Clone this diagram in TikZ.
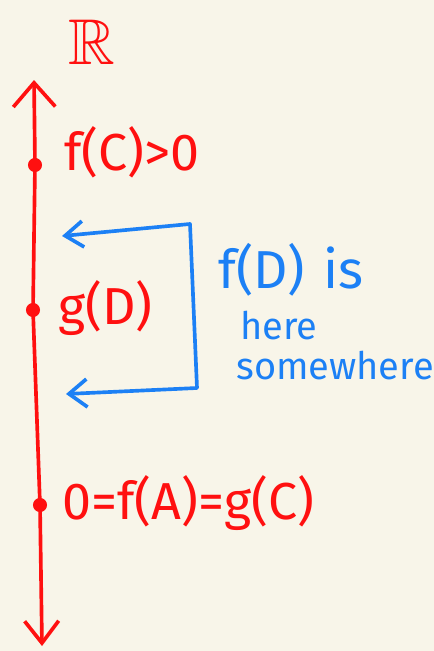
\documentclass[tikz,border=0pt]{standalone}
\usepackage{fontspec}
\usepackage{amssymb}
\setmainfont{Fira Sans}
\usetikzlibrary{arrows.meta, positioning}

\definecolor{paper}{HTML}{F8F5E9}
\definecolor{inkred}{HTML}{FF1010}
\definecolor{inkblue}{HTML}{1C80F5}

\begin{document}
\begin{tikzpicture}[
    x=0.025cm, y=-0.025cm,
    axis/.style={inkred, line width=2.6pt, line cap=round, {Straight Barb[length=6mm, width=10.5mm]}-{Straight Barb[length=5.5mm, width=8.5mm]}},
    bracket/.style={inkblue, line width=2.6pt, line cap=round, line join=round, {Straight Barb[length=4.5mm, width=6.5mm]}-{Straight Barb[length=4.5mm, width=7mm]}},
    pt/.style={circle, fill=inkred, inner sep=0pt, minimum size=10pt},
    redlabel/.style={text=inkred, font=\fontsize{37}{40}\selectfont, anchor=west, inner sep=0pt},
    bluelabel/.style={text=inkblue, font=\fontsize{38}{40}\selectfont, anchor=west, inner sep=0pt},
    bluesmall/.style={text=inkblue, font=\fontsize{27}{29}\selectfont, anchor=west, inner sep=0pt}
]
\fill [paper] (0,0) rectangle (434,651);
\useasboundingbox (0,0) rectangle (434,651);

% the real line
\coordinate (top) at (34,80);
\coordinate (bottom) at (42,646);
\node (pc) [pt] at (35,165) {};
\node (pd) [pt] at (33,310) {};
\node (pa) [pt] at (40,505) {};
\draw [axis] (top) -- (pc.center) -- (pd.center) -- (pa.center) -- (bottom);

\node (reals) [text=inkred, font=\fontsize{46}{48}\selectfont, inner sep=0pt] at (92,42) {$\mathbb{R}$};
\node (fc) [redlabel] at (64,152) {f(C)>0};
\node (gd) [redlabel] at (58,308) {g(D)};
\node (fa) [redlabel] at (62,503) {0=f(A)=g(C)};

% where f(D) lands
\coordinate (btop) at (62,236);
\coordinate (c1) at (190,224);
\coordinate (c2) at (197,388);
\coordinate (bbot) at (66,394);
\draw [bracket] (btop) -- (c1) -- (c2) -- (bbot);

\node (fd) [bluelabel] at (218,270) {f(D)\hspace{0.35em}is};
\node (here) [bluesmall] at (240,326) {here};
\node (some) [bluesmall] at (236,366) {somewhere};
\end{tikzpicture}
\end{document}
